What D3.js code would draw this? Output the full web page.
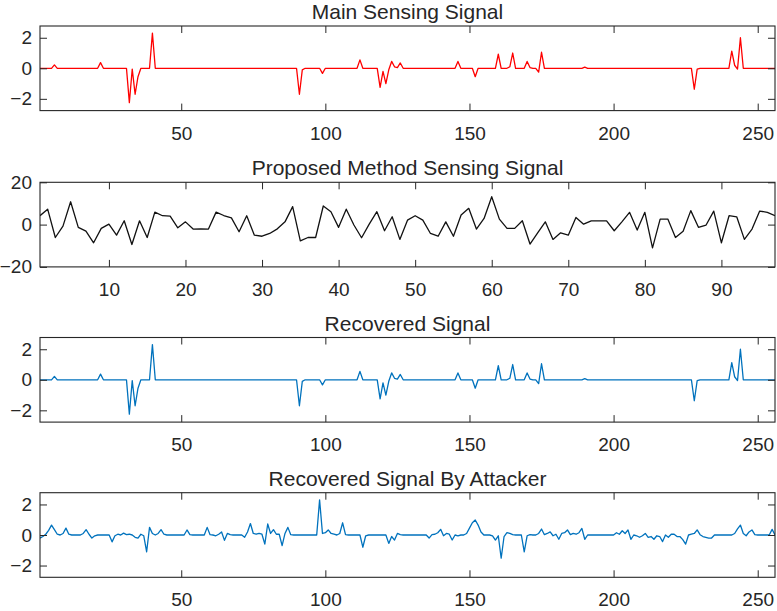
<!DOCTYPE html>
<html>
<head>
<meta charset="utf-8">
<script src="https://cdn.jsdelivr.net/npm/d3@7"></script>
<style>
  body { margin: 0; background: #ffffff; }
  svg { display: block; font-family: "Liberation Sans", Arial, Helvetica, sans-serif; }
</style>
</head>
<body>
<script>
// panel titles
const titles = ["Main Sensing Signal", "Proposed Method Sensing Signal", "Recovered Signal", "Recovered Signal By Attacker"];

// main sensing signal: sample index and value of each spike, zero elsewhere (256 samples)
const mainIdx = [6, 22, 32, 33, 34, 35, 40, 91, 92, 99, 112, 119, 120, 121, 122, 123, 124, 125, 126,
  146, 152, 160, 164, 165, 170, 171, 174, 175, 190, 228, 229, 241, 242, 243, 244];
const mainVal = [0.22, 0.37, -2.25, -0.05, -1.7, -0.55, 2.3, -1.7, -0.1, -0.33, 0.55, -1.25, -0.2, -1.0, -0.1, 0.45, 0.1, 0.05, 0.35,
  0.45, -0.55, 0.92, 0.1, 1.0, 0.45, 0.05, -0.25, 1.05, 0.08, -1.37, -0.05, 1.13, 0.2, -0.05, 2.0];

// recovered signal (reads the same as the main one)
const recoveredIdx = [6, 22, 32, 33, 34, 35, 40, 91, 92, 99, 112, 119, 120, 121, 122, 123, 124, 125, 126,
  146, 152, 160, 164, 165, 170, 171, 174, 175, 190, 228, 229, 241, 242, 243, 244];
const recoveredVal = [0.22, 0.37, -2.25, -0.05, -1.7, -0.55, 2.3, -1.7, -0.1, -0.33, 0.55, -1.25, -0.2, -1.0, -0.1, 0.45, 0.1, 0.05, 0.35,
  0.45, -0.55, 0.92, 0.1, 1.0, 0.45, 0.05, -0.25, 1.05, 0.08, -1.37, -0.05, 1.13, 0.2, -0.05, 2.0];

// signal recovered by the attacker, non-zero samples only
const attackIdx = [1, 2, 3, 4, 5, 6, 7, 9, 10, 11, 16, 17, 18, 19, 20, 26, 27, 28, 30, 31, 32, 34, 35, 36, 37, 38, 39, 40,
  42, 43, 44, 52, 53, 59, 60, 62, 63, 64, 65, 66, 67, 72, 73, 74, 75, 76, 77, 78, 79, 80, 81, 82, 83, 84, 85, 86, 87, 88,
  98, 99, 100, 101, 102, 103, 105, 106, 107, 113, 114, 122, 123, 124, 125, 126, 136, 137, 138, 139, 140, 141, 142, 143, 144, 146,
  149, 150, 151, 152, 153, 154, 158, 159, 160, 161, 162, 163, 164, 165, 169, 170, 171, 174, 175, 176, 177, 178, 179, 180,
  181, 182, 183, 184, 185, 186, 187, 188, 189, 190, 201, 202, 203, 204, 205, 206, 208, 209, 210, 211, 212, 213, 214, 215,
  216, 217, 219, 220, 221, 222, 223, 224, 225, 227, 228, 229, 230, 231, 232, 233, 234, 242, 243, 244, 245, 246, 247, 248,
  249, 255];
const attackVal = [-0.2, -0.1, 0.05, 0.3, 0.65, 0.35, 0.05, 0.1, 0.45, 0.05, 0.1, 0.35, 0.05, -0.2, -0.05, -0.45, -0.05, 0.05, 0.12, 0.02, 0.05, -0.15, -0.2, 0.05, -0.05, -1.1, 0.5, 0.1,
  0.1, 0.35, 0.05, 0.33, 0.02, 0.5, 0.02, -0.05, 0.05, 0.2, -0.35, 0.1, 0.02, -0.15, 0.2, 0.75, 0.1, 0.05, 0.1, 0.05, -0.6, 0.72, 0.1, 0.35, 0.05, 0.05, -0.7, 0.1, 0.5, 0.02,
  2.3, 0.1, 0.15, 0.33, 0.1, 0.05, 0.1, 0.8, 0.02, -0.8, -0.05, -0.55, -0.1, -0.33, 0.1, 0.02, -0.2, 0.02, 0.05, 0.15, 0.37, -0.05, 0.1, 0.05, -0.33, -0.05,
  0.1, 0.45, 0.8, 0.98, 0.65, 0.2, -0.05, -0.33, -0.05, -1.52, -0.1, 0.15, 0.1, 0.02, -1.1, -0.05, 0.02, 0.1, 0.39, 0.02, 0.1, 0.2, -0.05, 0.05,
  -0.28, 0.1, 0.15, 0.33, 0.02, 0.1, 0.05, 0.15, 0.43, -0.28, 0.15, 0.05, 0.28, 0.1, 0.33, -0.28, -0.05, -0.15, -0.05, 0.1, -0.15, -0.1, -0.28, -0.05,
  -0.1, -0.43, -0.15, 0.05, 0.05, -0.1, -0.1, -0.3, -0.6, 0.05, 0.1, 0.33, 0.02, -0.1, -0.15, -0.2, -0.2, 0.1, 0.4, 0.65, 0.1, -0.05, 0.2, 0.33,
  0.02, 0.37];

// proposed method sensing signal (97 samples)
const proposedVal = [4.2, 7.3, -6.1, -0.7, 10.8, -1.3, -3.1, -8.6, -1.8, 0.2,
  -5.0, 1.8, -9.4, 1.8, -6.1, 5.9, 4.2, 4.0, -1.5, 1.3,
  -2.1, -2.0, -2.1, 5.9, 4.3, 3.2, -3.4, 4.2, -5.0, -5.5,
  -4.2, -2.0, 1.3, 8.5, -7.7, -6.1, -6.1, 8.8, 6.1, -1.3,
  7.3, -0.2, -6.2, 0.2, 6.1, -2.9, 3.7, -7.0, 2.1, 4.2,
  2.1, -4.2, -5.5, 1.3, -5.5, 4.5, 7.7, -2.1, 2.9, 13.2,
  2.6, -1.8, -1.8, 1.8, -9.2, -3.9, 1.3, -7.0, -3.9, -5.0,
  3.4, 0.2, 1.8, 1.8, 1.8, -2.9, 1.3, 5.8, -2.6, 5.8,
  -11.0, 2.6, 2.6, -6.1, -3.1, 6.6, -1.3, -0.2, 6.4, -8.6,
  4.2, 3.7, -7.0, -2.1, 6.4, 5.8, 4.2];

// tick values
const xTicksLong = [50, 100, 150, 200, 250];
const xTicksShort = [10, 20, 30, 40, 50, 60, 70, 80, 90];
const yTicksSmall = [-2, 0, 2];
const yTicksLarge = [-20, 0, 20];

let svgContainer = "";

// turn index/value spike lists into a full series
function expand(idx, vals, n) {
  let out = new Array(n).fill(0);
  idx.forEach((k, j) => { out[k - 1] = vals[j]; });
  return out;
}

// one subplot: box, inward ticks on all sides, title and the signal line
function drawPanel(p) {
  let left = 40, width = 735, height = 84.6;
  let g = svgContainer.append('g')
    .attr('transform', 'translate(' + left + ',' + p.top + ')');

  let xScale = d3.scaleLinear().domain([1, p.data.length]).range([0, width]);
  let yScale = d3.scaleLinear().domain(p.yLim).range([height, 0]);

  let clipId = 'clip' + p.top.toFixed(0);
  g.append('clipPath').attr('id', clipId)
    .append('rect').attr('width', width).attr('height', height);

  let line = d3.line()
    .x((d, i) => xScale(i + 1))
    .y((d) => yScale(d));

  g.append('path')
    .datum(p.data)
    .attr('clip-path', 'url(#' + clipId + ')')
    .attr('d', line)
    .attr('fill', 'none')
    .attr('stroke', p.color)
    .attr('stroke-width', 1.3)
    .attr('stroke-linejoin', 'round');

  // bottom axis with labels
  let xAxis = d3.axisBottom(xScale).tickValues(p.xTicks).tickFormat(d3.format('d'))
    .tickSizeInner(-7).tickSizeOuter(0).tickPadding(15.5);
  g.append('g').attr('class', 'ax')
    .attr('transform', 'translate(0,' + height + ')')
    .call(xAxis);

  // top axis, ticks only
  g.append('g').attr('class', 'ax')
    .call(d3.axisTop(xScale).tickValues(p.xTicks).tickSizeInner(-7).tickSizeOuter(0).tickFormat(''));

  // left axis with labels
  let yAxis = d3.axisLeft(yScale).tickValues(p.yTicks).tickFormat(d3.format('d'))
    .tickSizeInner(-7).tickSizeOuter(0).tickPadding(8);
  g.append('g').attr('class', 'ax').call(yAxis);

  // right axis, ticks only
  g.append('g').attr('class', 'ax')
    .attr('transform', 'translate(' + width + ',0)')
    .call(d3.axisRight(yScale).tickValues(p.yTicks).tickSizeInner(-7).tickSizeOuter(0).tickFormat(''));

  g.selectAll('.ax .domain').remove();
  g.selectAll('.ax line').attr('stroke', '#262626');
  g.selectAll('.ax text')
    .attr('fill', '#262626')
    .style('font-size', '19px')
    .style('font-family', '"Liberation Sans", Arial, Helvetica, sans-serif');

  // axes box
  g.append('rect')
    .attr('width', width)
    .attr('height', height)
    .attr('fill', 'none')
    .attr('stroke', '#262626')
    .attr('stroke-width', 1.1);

  // title
  g.append('text')
    .attr('x', width / 2)
    .attr('y', -7)
    .attr('text-anchor', 'middle')
    .style('font-size', '21px')
    .attr('fill', '#262626')
    .text(p.title);
}

svgContainer = d3.select('body').append('svg')
  .attr('width', 777)
  .attr('height', 611)
  .style('background', '#ffffff');

drawPanel({ top: 26, title: titles[0], data: expand(mainIdx, mainVal, 256), color: '#ff0000',
  yLim: [-2.77, 2.77], xTicks: xTicksLong, yTicks: yTicksSmall });
drawPanel({ top: 182.3, title: titles[1], data: proposedVal, color: '#111111',
  yLim: [-20, 20], xTicks: xTicksShort, yTicks: yTicksLarge });
drawPanel({ top: 337.5, title: titles[2], data: expand(recoveredIdx, recoveredVal, 256), color: '#0072BD',
  yLim: [-2.77, 2.77], xTicks: xTicksLong, yTicks: yTicksSmall });
drawPanel({ top: 492.7, title: titles[3], data: expand(attackIdx, attackVal, 256), color: '#0072BD',
  yLim: [-2.77, 2.77], xTicks: xTicksLong, yTicks: yTicksSmall });
</script>
</body>
</html>
